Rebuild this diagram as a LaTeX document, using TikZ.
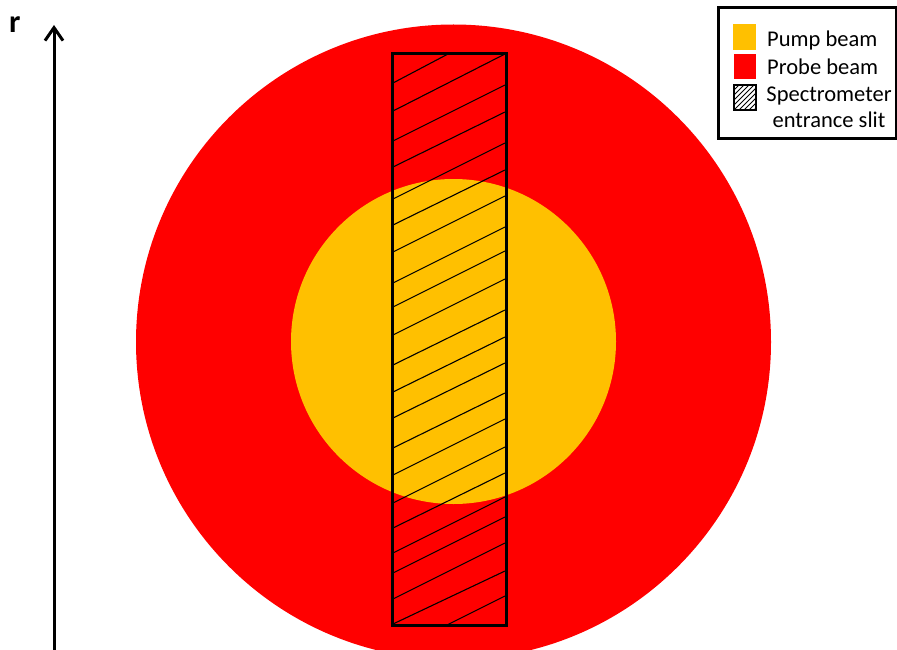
\documentclass[tikz,border=0pt]{standalone}
\usepackage{fontspec}
\setmainfont{Carlito}
\usetikzlibrary{arrows.meta}
\definecolor{pumpc}{HTML}{FFC000}
\definecolor{probec}{HTML}{FF0000}
\begin{document}
\begin{tikzpicture}[x=1pt,y=-1pt,
  hatchline/.style={line width=1.1pt,black},
  slitframe/.style={line width=3pt,black},
  legtext/.style={font=\fontsize{22.5}{26}\selectfont, inner sep=0pt}]
\useasboundingbox (0,0) rectangle (897,650);
\begin{scope}
  \clip (0,0) rectangle (897,650);
  \fill[probec] (453.5,342) circle (317.5pt);
  \fill[pumpc] (453.5,341.5) circle (162.5pt);
\end{scope}
% hatch lines of the slit
\foreach \l/\r in {111/54,141/85,167/112,199/143,225/170,252/196,283/227,307/251,335/279,365/310,392/337,418/363,448/393,475/419,503/447,528/473,553/497,573/517,599/543,624/571}
  \draw[hatchline] (393,\l) -- (505,\r);
\draw[hatchline] (393,83) -- (448,54);
\draw[hatchline] (447,625) -- (505,596);
\draw[slitframe] (392,54) rectangle (506,625);
% axis
\coordinate (axbot) at (54,650);
\coordinate (axtop) at (54,25);
\draw[line width=3pt, -{Straight Barb[length=13pt,width=18pt,line width=3pt]}] (axbot) -- (axtop);
\node[font=\fontsize{32}{36}\selectfont\bfseries, anchor=base west, inner sep=0pt] (rlab) at (9,33) {r};
% legend
\draw[line width=3pt] (718,8) rectangle (896,139);
\fill[pumpc] (733,24) rectangle (756,50);
\fill[probec] (734,54) rectangle (756,79);
\begin{scope}
  \clip (734,85) rectangle (756,110);
  \foreach \k in {0,5,...,50}
    \draw[line width=0.8pt] (734,85+\k) -- (734+\k,85);
\end{scope}
\draw[line width=2.2pt] (734,85) rectangle (756,110);
\node[legtext, anchor=base west] (pump) at (767,47) {Pump beam};
\node[legtext, anchor=base west] (probe) at (767,75) {Probe beam};
\node[legtext, anchor=base, align=center] (slit) at (829,128) {Spectrometer\\entrance slit};
\end{tikzpicture}
\end{document}
